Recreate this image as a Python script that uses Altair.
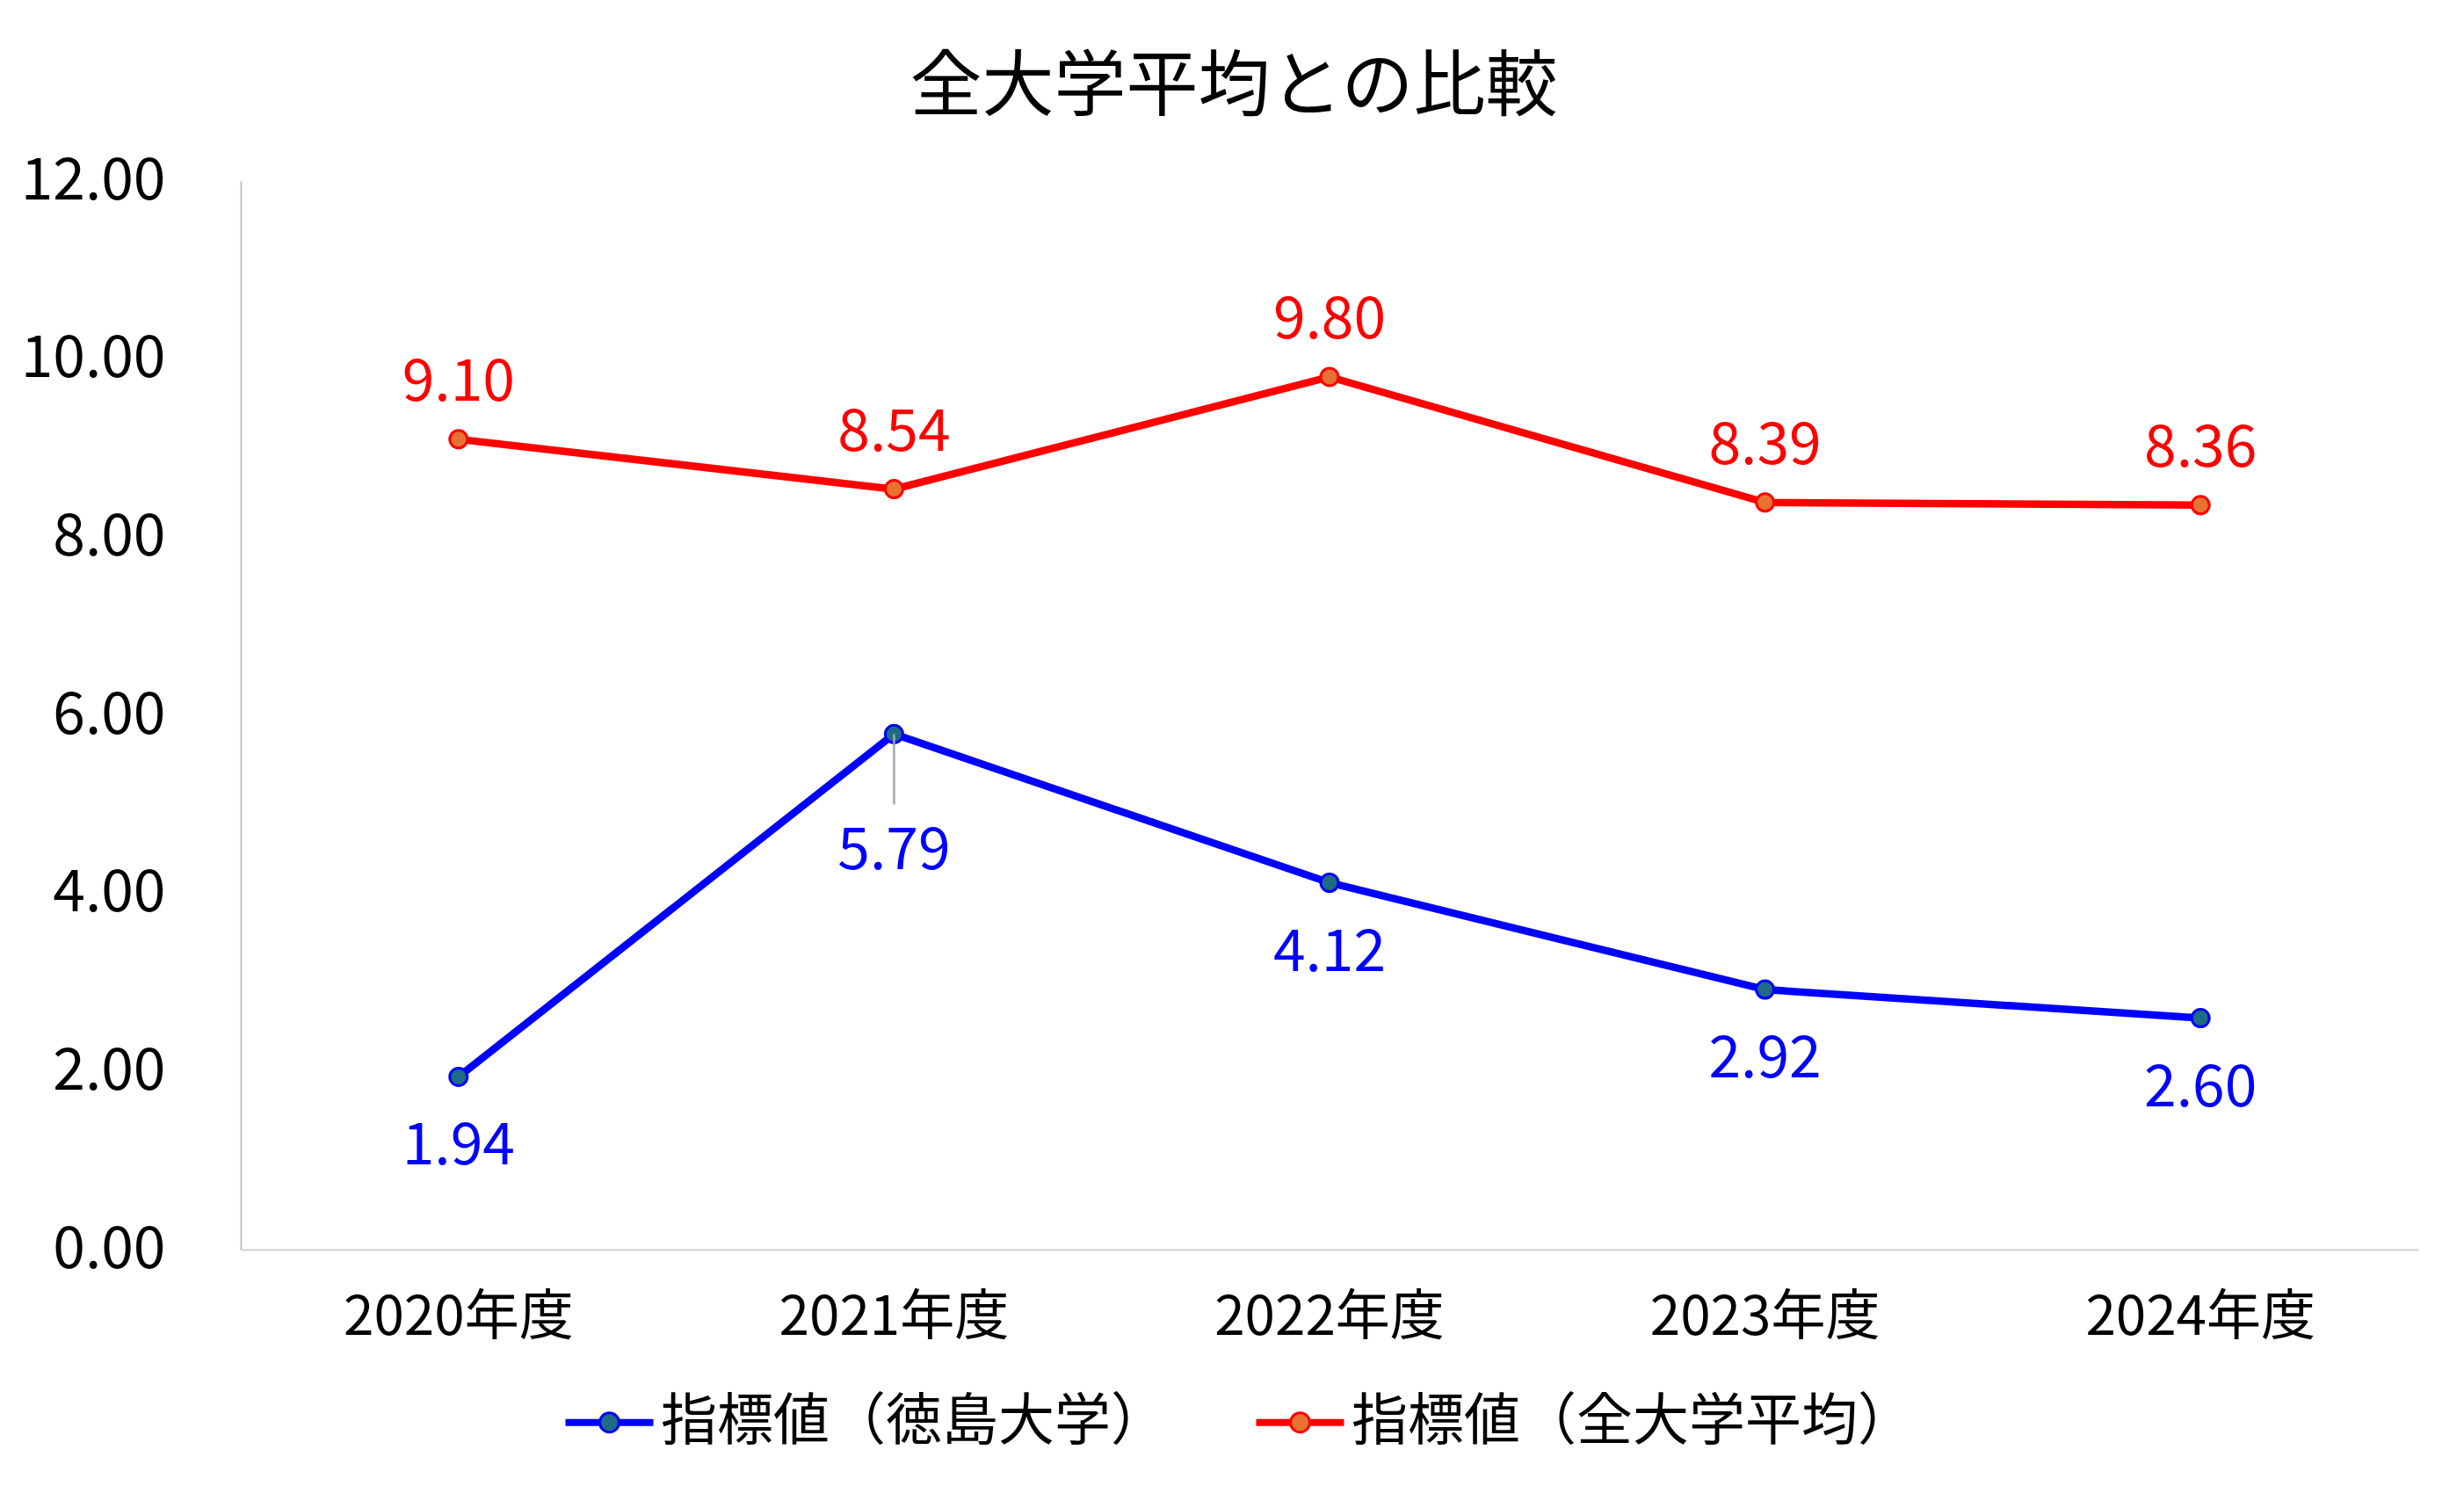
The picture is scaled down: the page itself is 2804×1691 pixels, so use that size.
import altair as alt
import pandas as pd

# ---- data ----
years = ["2020年度", "2021年度", "2022年度", "2023年度", "2024年度"]
tokushima = [1.94, 5.79, 4.12, 2.92, 2.60]
all_avg = [9.10, 8.54, 9.80, 8.39, 8.36]
series_names = ["指標値（徳島大学）", "指標値（全大学平均）"]
y_ticks = [0, 2, 4, 6, 8, 10, 12]
title_text = "全大学平均との比較"

# ---- styles ----
line_colors = ["#0000FF", "#FF0000"]
marker_fills = ["#1F6B86", "#E97132"]
NUM_FONT = "'Noto Sans CJK JP', sans-serif"
CJK_FONT = "'Noto Sans CJK JP', sans-serif"

rows = []
for i, yr in enumerate(years):
    rows.append({"year": yr, "series": series_names[0], "value": tokushima[i]})
    rows.append({"year": yr, "series": series_names[1], "value": all_avg[i]})
df = pd.DataFrame(rows)

LEG_PATH = (
    "M-1,-0.05L-0.22,-0.05M-1,0L-0.22,0M-1,0.05L-0.22,0.05"
    "M0.22,-0.05L1,-0.05M0.22,0L1,0M0.22,0.05L1,0.05"
    "M0.22,0A0.22,0.22,0,1,1,-0.22,0A0.22,0.22,0,1,1,0.22,0Z"
)

legend = alt.Legend(
    title=None,
    orient="none",
    legendX=368,
    legendY=1361,
    direction="horizontal",
    symbolType=LEG_PATH,
    symbolSize=10000,
    symbolStrokeWidth=3,
    symbolOpacity=1,
    labelFont=CJK_FONT,
    labelFontSize=64,
    labelColor="#000000",
    labelOffset=7,
    labelLimit=2000,
    columnPadding=95,
    padding=0,
)

stroke_scale = alt.Scale(domain=series_names, range=line_colors)
fill_scale = alt.Scale(domain=series_names, range=marker_fills)

x_enc = alt.X(
    "year:N",
    sort=years,
    axis=alt.Axis(
        title=None,
        labelAngle=0,
        labelFont=NUM_FONT,
        labelFontSize=62,
        labelColor="#000000",
        labelPadding=47,
        labelLimit=2000,
        ticks=False,
        grid=False,
        domainColor="#D9D9D9",
        domainWidth=2.5,
    ),
)
y_enc = alt.Y(
    "value:Q",
    scale=alt.Scale(domain=[0, 12], nice=False, zero=True),
    axis=alt.Axis(
        title=None,
        values=y_ticks,
        format=".2f",
        labelFont=NUM_FONT,
        labelFontSize=66,
        labelColor="#000000",
        labelPadding=86,
        labelLimit=2000,
        ticks=False,
        grid=False,
        domainColor="#BFBFBF",
        domainWidth=2,
    ),
)

base = alt.Chart(df)

lines = base.mark_line(strokeWidth=8.5).encode(
    x=x_enc,
    y=y_enc,
    stroke=alt.Stroke("series:N", scale=stroke_scale, legend=legend),
    detail="series:N",
)

points = base.mark_point(
    filled=True, size=400, strokeWidth=3, opacity=1, shape="circle"
).encode(
    x=x_enc,
    y=y_enc,
    fill=alt.Fill("series:N", scale=fill_scale, legend=legend),
    stroke=alt.Stroke("series:N", scale=stroke_scale, legend=legend),
)

leader = base.transform_filter(
    (alt.datum.series == series_names[0]) & (alt.datum.year == years[1])
).mark_rule(color="#A6A6A6", strokeWidth=2.5, y2Offset=80).encode(
    x=x_enc, y=y_enc, y2="value:Q"
)

LABEL_SIZE = 66

red_labels = base.transform_filter(alt.datum.series == series_names[1]).mark_text(
    font=NUM_FONT, fontSize=LABEL_SIZE, color="#FF0000", baseline="alphabetic", dy=-44
).encode(x=x_enc, y=y_enc, text=alt.Text("value:Q", format=".2f"))

blue_labels = base.transform_filter(
    (alt.datum.series == series_names[0]) & (alt.datum.year != years[1])
).mark_text(
    font=NUM_FONT, fontSize=LABEL_SIZE, color="#0000FF", baseline="alphabetic", dy=100
).encode(x=x_enc, y=y_enc, text=alt.Text("value:Q", format=".2f"))

blue_label_far = base.transform_filter(
    (alt.datum.series == series_names[0]) & (alt.datum.year == years[1])
).mark_text(
    font=NUM_FONT, fontSize=LABEL_SIZE, color="#0000FF", baseline="alphabetic", dy=154
).encode(x=x_enc, y=y_enc, text=alt.Text("value:Q", format=".2f"))

chart = (
    alt.layer(lines, points, leader, red_labels, blue_labels, blue_label_far)
    .properties(
        width=2478,
        height=1216,
        title=alt.TitleParams(
            title_text,
            font=CJK_FONT,
            fontSize=82,
            fontWeight="normal",
            color="#000000",
            anchor="middle",
            dx=-109,
            baseline="alphabetic",
            offset=-34,
        ),
        autosize=alt.AutoSizeParams(type="none"),
        padding={"left": 266, "top": 198, "right": 44, "bottom": 261},
        background="#FFFFFF",
    )
    .resolve_scale(stroke="shared", fill="shared")
    .configure_view(stroke=None)
)

chart.save("out.html", embed_options={"renderer": "svg", "actions": False})
